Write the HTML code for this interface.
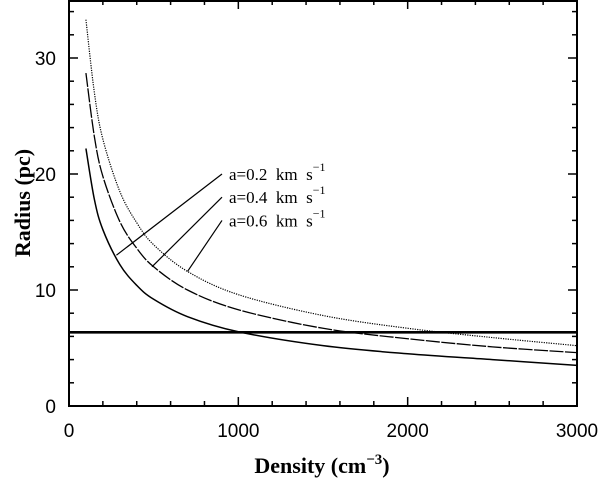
<!DOCTYPE html>
<html><head><meta charset="utf-8"><style>
html,body{margin:0;padding:0;background:#fff;}
svg{display:block;}
.tk{font-family:"Liberation Sans",sans-serif;font-size:19px;fill:#000;}
.lab{font-family:"Liberation Serif",serif;font-size:17px;fill:#000;}
.ttl{font-family:"Liberation Serif",serif;font-size:22px;font-weight:bold;fill:#000;}
</style></head><body>
<svg id="chart" width="603" height="481" viewBox="0 0 603 481">
<g id="axes"></g>
<g id="series"></g>
<g id="annot"></g>
</svg>
<script>
const densities = [100,150,200,300,400,500,700,1000,1500,2000,2500,3000];
const radiusA02 = [22.2,17.8,15.2,12.2,10.4,9.2,7.7,6.4,5.2,4.5,4.0,3.5];
const radiusA04 = [28.7,23.2,19.8,15.9,13.6,12.0,10.0,8.3,6.7,5.8,5.1,4.6];
const radiusA06 = [33.3,27.0,23.0,18.5,15.8,13.9,11.6,9.6,7.8,6.7,5.9,5.2];
const refRadius = 6.35;
const xTicks = [0,1000,2000,3000];
const yTicks = [0,10,20,30];
const labels = ["a=0.2 km s","a=0.4 km s","a=0.6 km s"];
const leaderPts = [[280,13.0],[490,12.0],[700,11.6]];
const labelR = [20,18,16];

const L=69,R=577,T=0,B=406;
const X=v=>L+(v-0)/3000*(R-L);
const Y=v=>B-v/35*(B-T);
const NS="http://www.w3.org/2000/svg";
function mk(tag,attrs,parent){const e=document.createElementNS(NS,tag);for(const k in attrs)e.setAttribute(k,attrs[k]);parent.appendChild(e);return e;}
const ax=document.getElementById('axes'),se=document.getElementById('series'),an=document.getElementById('annot');

let box=mk('rect',{x:L,y:T+1,width:R-L,height:B-T-1,fill:'none',stroke:'#000','stroke-width':2},ax);


for(let v=0;v<=3000;v+=200){const maj=v%1000===0,len=maj?9:5;
 let t=mk('line',{x1:X(v),x2:X(v),y1:B,y2:B-len,stroke:'#000','stroke-width':1.5},ax);
 
 
 let t2=mk('line',{x1:X(v),x2:X(v),y1:T,y2:T+len,stroke:'#000','stroke-width':1.5},ax);
 
 }
for(let v=0;v<=34;v+=2){const maj=v%10===0,len=maj?9:5;
 let t=mk('line',{x1:L,x2:L+len,y1:Y(v),y2:Y(v),stroke:'#000','stroke-width':1.5},ax);
 
 
 let t2=mk('line',{x1:R,x2:R-len,y1:Y(v),y2:Y(v),stroke:'#000','stroke-width':1.5},ax);
 
 }
xTicks.forEach(v=>{let t=mk('text',{x:X(v),y:437,'text-anchor':'middle',class:'tk'},ax);t.textContent=v;
 
 });
yTicks.forEach(v=>{let t=mk('text',{x:56,y:Y(v)+7,'text-anchor':'end',class:'tk'},ax);t.textContent=v;
 
 });
let xt=mk('text',{x:322,y:473,'text-anchor':'middle',class:'ttl'},ax);
xt.innerHTML='Density (cm<tspan dy="-9" font-size="15">−3</tspan><tspan dy="9">)</tspan>';


let yt=mk('text',{x:0,y:0,'text-anchor':'middle',class:'ttl',transform:'translate(30,203) rotate(-90)'},ax);
yt.textContent='Radius (pc)';



function curve(vals,dash,name,w){
 const P=densities.map((n,i)=>[X(n),Y(vals[i])]);
 let d='M'+P[0][0].toFixed(2)+','+P[0][1].toFixed(2);
 for(let i=0;i<P.length-1;i++){
  const p0=P[Math.max(i-1,0)],p1=P[i],p2=P[i+1],p3=P[Math.min(i+2,P.length-1)];
  const c1=[p1[0]+(p2[0]-p0[0])/6,p1[1]+(p2[1]-p0[1])/6];
  const c2=[p2[0]-(p3[0]-p1[0])/6,p2[1]-(p3[1]-p1[1])/6];
  d+='C'+c1[0].toFixed(2)+','+c1[1].toFixed(2)+' '+c2[0].toFixed(2)+','+c2[1].toFixed(2)+' '+p2[0].toFixed(2)+','+p2[1].toFixed(2);
 }
 const p=mk('path',{d:d,fill:'none',stroke:'#000','stroke-width':w},se);
 if(dash)p.setAttribute('stroke-dasharray',dash);
 
 
}
curve(radiusA02,null,'curve-a-0.2',1.5);
curve(radiusA04,'14 1.5','curve-a-0.4',1.3);
curve(radiusA06,'1.2 1.2','curve-a-0.6',1.2);
let hl=mk('line',{x1:L,x2:R,y1:Y(refRadius),y2:Y(refRadius),stroke:'#000','stroke-width':2.6},se);



labels.forEach((s,i)=>{
 let l=mk('line',{x1:X(leaderPts[i][0]),y1:Y(leaderPts[i][1]),x2:222,y2:Y(labelR[i]),stroke:'#000','stroke-width':1.2},an);
 
 
 let t=mk('text',{x:229,y:Y(labelR[i])+6,class:'lab'},an);
 t.innerHTML=s.replace(/ /g,'\u00a0 ')+'<tspan dy="-9" font-size="12">−1</tspan>';
 
 
});
</script>
</body></html>
